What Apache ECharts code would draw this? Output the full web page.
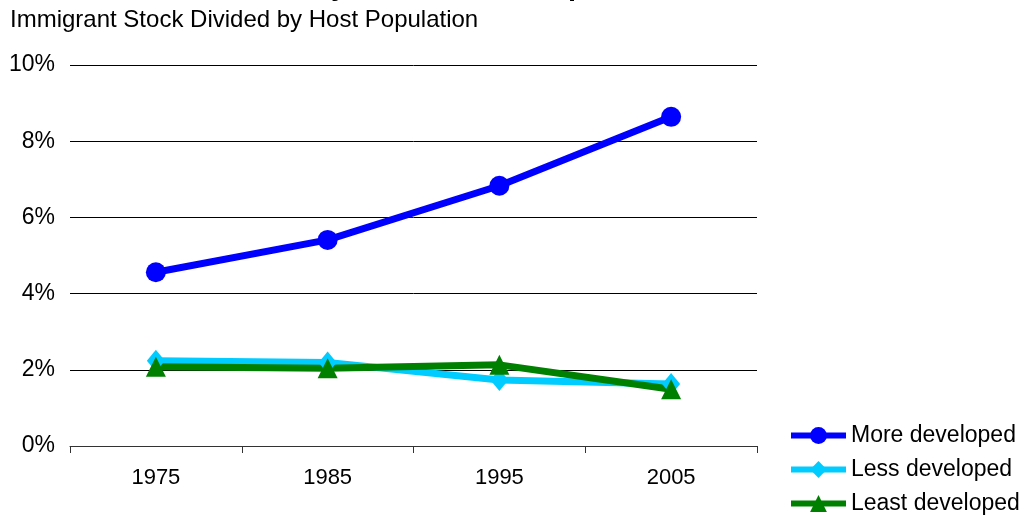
<!DOCTYPE html>
<html>
<head>
<meta charset="utf-8">
<script src="https://cdn.jsdelivr.net/npm/echarts@6/dist/echarts.min.js"></script>
<style>
html,body{margin:0;padding:0;background:#fff;}
#chart{width:1028px;height:515px;}
</style>
</head>
<body>
<div id="chart"></div>
<script>
const titleText = 'Trends by Level of Development, 1975-2005';
const subtitleText = 'Immigrant Stock Divided by Host Population';
const years = ['1975', '1985', '1995', '2005'];
const moreDeveloped = [4.56, 5.41, 6.83, 8.64];
const lessDeveloped = [2.24, 2.19, 1.73, 1.63];
const leastDeveloped = [2.08, 2.04, 2.13, 1.49];
const seriesNames = ['More developed', 'Less developed', 'Least developed'];
const yTicks = [0, 2, 4, 6, 8, 10];

const FONT = '"Liberation Sans", Arial, sans-serif';
const chart = echarts.init(document.getElementById('chart'), null, {renderer: 'canvas'});

function lineSeries(name, data, color, symbol, size) {
  return {
    name: name,
    type: 'line',
    data: data,
    symbol: symbol,
    symbolSize: size,
    showAllSymbol: true,
    lineStyle: {color: color, width: 7},
    itemStyle: {color: color},
    emphasis: {disabled: true},
    animation: false,
    z: 3
  };
}

chart.setOption({
  animation: false,
  textStyle: {fontFamily: FONT},
  graphic: [
    {type: 'text', x: 510, y: 1,
     style: {text: titleText, font: 'bold 29px ' + FONT, fill: '#000',
             textAlign: 'center', textVerticalAlign: 'bottom'}},
    {type: 'text', left: 10, top: 8,
     style: {text: subtitleText, font: '24px ' + FONT, fill: '#000'}}
  ],
  grid: {left: 70, right: 271, top: 65, bottom: 69},
  legend: {
    orient: 'vertical',
    left: 788,
    top: 424,
    height: 140,
    padding: 0,
    itemWidth: 55,
    itemHeight: 21,
    itemGap: 11,
    lineStyle: {width: 6},
    textStyle: {fontSize: 23, color: '#000', fontFamily: FONT},
    data: seriesNames
  },
  xAxis: {
    type: 'category',
    data: years,
    boundaryGap: true,
    axisLine: {lineStyle: {color: '#333', width: 1}},
    axisTick: {show: true, length: 7, lineStyle: {color: '#333'}},
    axisLabel: {fontSize: 22, color: '#000', margin: 21, fontFamily: FONT},
    splitLine: {show: false}
  },
  yAxis: {
    type: 'value',
    min: yTicks[0],
    max: yTicks[yTicks.length - 1],
    interval: 2,
    axisLine: {show: false},
    axisTick: {show: false},
    axisLabel: {fontSize: 23, color: '#000', margin: 15, fontFamily: FONT, formatter: '{value}%'},
    splitLine: {lineStyle: {color: '#000', width: 1}}
  },
  series: [
    lineSeries(seriesNames[0], moreDeveloped, '#0000ff', 'circle', 20),
    lineSeries(seriesNames[1], lessDeveloped, '#00ccff', 'diamond', [18, 22]),
    lineSeries(seriesNames[2], leastDeveloped, '#008000', 'triangle', 20)
  ]
});
</script>
</body>
</html>
